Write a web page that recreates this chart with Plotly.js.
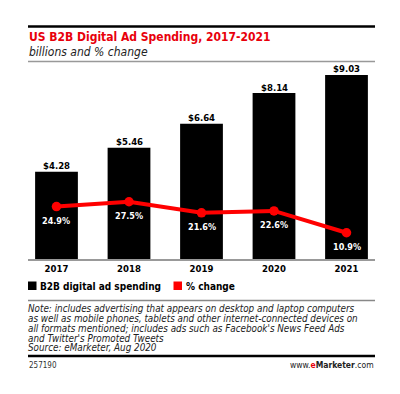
<!DOCTYPE html>
<html>
<head>
<meta charset="utf-8">
<script src="https://cdn.plot.ly/plotly-3.0.1.min.js"></script>
<style>html,body{margin:0;padding:0;background:#fff;}#chart{width:400px;height:394px;}</style>
</head>
<body>
<div id="chart"></div>
<script>
const years = ['2017', '2018', '2019', '2020', '2021'];
const spending = [4.28, 5.46, 6.64, 8.14, 9.03];
const pctChange = [24.9, 27.5, 21.6, 22.6, 10.9];
const spendingLabels = ['$4.28', '$5.46', '$6.64', '$8.14', '$9.03'];
const pctLabels = ['24.9%', '27.5%', '21.6%', '22.6%', '10.9%'];
const seriesNames = ['B2B digital ad spending', '% change'];

const FONT = '"DejaVu Sans Condensed", "DejaVu Sans", Verdana, sans-serif';
const L = 28, R = 375, T = 66, B = 259;
const px = x => (x - L) / (R - L);
const py = y => (B - y) / (B - T);

const traces = [
  {
    type: 'bar', x: years, y: spending, name: seriesNames[0],
    marker: {color: '#000'}, hoverinfo: 'skip'
  },
  {
    type: 'scatter', mode: 'lines+markers', x: years, y: pctChange, yaxis: 'y2',
    name: seriesNames[1],
    line: {color: '#ff0000', width: 4},
    marker: {color: '#ff0000', size: 9.5},
    cliponaxis: false, hoverinfo: 'skip'
  }
];

const shapes = [
  {type: 'line', xref: 'paper', yref: 'paper', x0: 0, x1: 1, y0: py(26.5), y1: py(26.5), line: {color: '#000', width: 2.5}},
  {type: 'line', xref: 'paper', yref: 'paper', x0: 0, x1: 1, y0: py(61.5), y1: py(61.5), line: {color: '#999', width: 1.5}},
  {type: 'line', xref: 'paper', yref: 'paper', x0: 0, x1: 1, y0: py(300.5), y1: py(300.5), line: {color: '#888', width: 1.5}},
  {type: 'line', xref: 'paper', yref: 'paper', x0: 0, x1: 1, y0: py(356), y1: py(356), line: {color: '#000', width: 2.5}},
  {type: 'rect', xref: 'paper', yref: 'paper', x0: px(28), x1: px(36.5), y0: py(290), y1: py(281.5), fillcolor: '#000', line: {width: 0}},
  {type: 'rect', xref: 'paper', yref: 'paper', x0: px(173.5), x1: px(182), y0: py(290), y1: py(281.5), fillcolor: '#ff0000', line: {width: 0}}
];

const ann = (text, x, y, opts) => Object.assign({
  text: text, xref: 'paper', yref: 'paper', x: px(x), y: py(y),
  xanchor: 'left', yanchor: 'middle', showarrow: false,
  font: {family: FONT, size: 11, color: '#000'}
}, opts || {});

const noteLines = [
  'Note: includes advertising that appears on desktop and laptop computers',
  'as well as mobile phones, tablets and other internet-connected devices on',
  'all formats mentioned; includes ads such as Facebook\'s News Feed Ads',
  'and Twitter\'s Promoted Tweets',
  'Source: eMarketer, Aug 2020'
];

const annotations = [
  ann('US B2B Digital Ad Spending, 2017-2021', 27, 37, {font: {family: FONT, size: 12, color: '#e8000b', weight: 'bold'}}),
  ann('<i>billions and % change</i>', 27, 52, {font: {family: FONT, size: 12, color: '#222'}}),
  ann('<b>' + seriesNames[0] + '</b>', 38, 286, {font: {family: FONT, size: 10, color: '#000'}}),
  ann('<b>' + seriesNames[1] + '</b>', 184, 286, {font: {family: FONT, size: 10, color: '#000'}}),
  ann('257190', 27, 365, {font: {family: FONT, size: 8, color: '#333'}}),
  ann('www.<b><span style="color:#e8000b">e</span>Marketer</b>.com', 376, 365, {xanchor: 'right', font: {family: FONT, size: 8.5, color: '#222'}})
];
noteLines.forEach((t, i) => {
  annotations.push(ann('<i>' + t + '</i>', 27, 308.3 + i * 9.9, {borderpad: 0, font: {family: FONT, size: 9.8, color: '#222'}}));
});
years.forEach((yr, i) => {
  annotations.push({
    text: '<b>' + spendingLabels[i] + '</b>', xref: 'x', yref: 'y', x: i, y: spending[i],
    xanchor: 'center', yanchor: 'middle', yshift: 6, showarrow: false,
    font: {family: FONT, size: 9.5, color: '#000'}
  });
  annotations.push({
    text: '<b>' + pctLabels[i] + '</b>', xref: 'x', yref: 'y2', x: i, y: pctChange[i],
    xanchor: 'center', yanchor: 'middle', yshift: -14, showarrow: false,
    font: {family: FONT, size: 9, color: '#fff'}
  });
});

const layout = {
  width: 400, height: 394,
  margin: {l: L, r: 400 - R, t: T, b: 394 - B, pad: 0},
  paper_bgcolor: '#fff', plot_bgcolor: '#fff',
  showlegend: false, bargap: 0.41,
  xaxis: {
    type: 'category', range: [-0.393, 4.393],
    showline: true, linecolor: '#999', linewidth: 1.5,
    ticks: '', showgrid: false, zeroline: false,
    tickfont: {family: FONT, size: 9.5, color: '#000', weight: 'bold'},
    fixedrange: true
  },
  yaxis: {range: [0, (B - T) / 20.38], visible: false, fixedrange: true},
  yaxis2: {range: [-3.16, -3.16 + (B - T) / 1.867], overlaying: 'y', visible: false, fixedrange: true},
  shapes: shapes,
  annotations: annotations
};

Plotly.newPlot('chart', traces, layout, {staticPlot: true, displayModeBar: false});
</script>
</body>
</html>
